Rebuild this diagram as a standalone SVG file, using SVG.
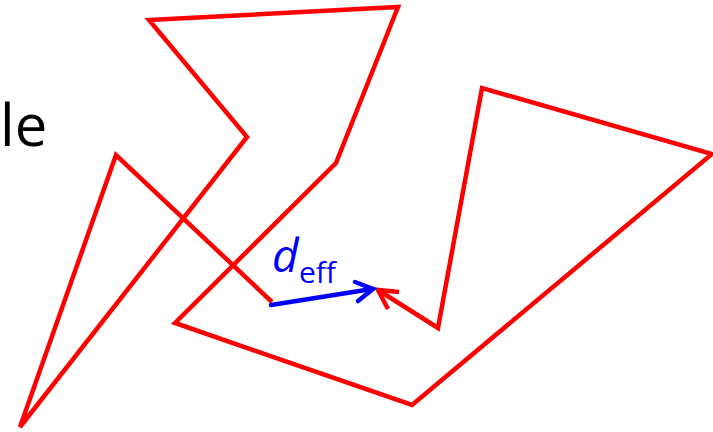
<svg xmlns="http://www.w3.org/2000/svg" width="713" height="432" viewBox="0 0 713 432">
<style>
.red{fill:none;stroke:#ff0000;stroke-width:4.5;stroke-linejoin:miter;stroke-linecap:butt}
.blue{fill:none;stroke:#0000ff;stroke-width:4.5;stroke-linecap:round}
.t{font-family:"Open Sans","Liberation Sans",sans-serif}
</style>
<rect width="713" height="432" fill="#ffffff"/>
<g id="label-left">
<text class="t" x="0" y="146" font-size="58" fill="#000">le</text>
</g>
<g id="connectors">
<polyline class="red" points="272,302 116,155 20,427 247,137 149,20 398,7 336,163 175,323 412,405 712,154 482,88 438,328 378,290"/>
<polyline class="red" points="399,292 378,290 388,309"/>
<line class="blue" x1="271" y1="305" x2="372" y2="289"/>
<polyline class="blue" points="355,282 373,289 358,301" style="stroke-linejoin:miter"/>
</g>
<g id="label-deff">
<text class="t" x="272" y="272" font-size="46" font-style="italic" fill="#0000ff">d</text>
<text class="t" x="299" y="283" font-size="30" fill="#0000ff">eff</text>
</g>
</svg>
